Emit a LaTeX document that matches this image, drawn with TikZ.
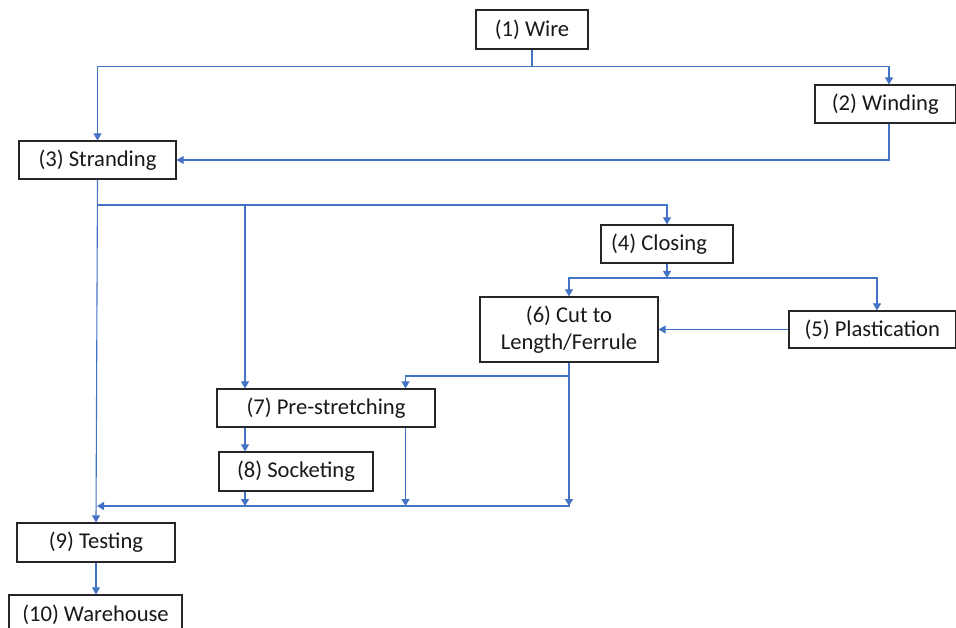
\documentclass[tikz,border=0pt]{standalone}
\usepackage{fontspec}
\setmainfont{Carlito}
\usetikzlibrary{arrows.meta}
\definecolor{lnblue}{HTML}{4472C4}
\definecolor{boxline}{HTML}{262626}
\begin{document}
\begin{tikzpicture}[x=1pt,y=-1pt,
  box/.style={draw=boxline, line width=1.2pt, fill=white, inner sep=0pt, text=black!90,
    font=\fontsize{22.6}{27}\selectfont},
  conn/.style={draw=lnblue, line width=1.1pt},
  arr/.style={conn, -{Triangle[width=8pt,length=7pt]}}]
\useasboundingbox (0,0) rectangle (956,628);

\node[box, minimum width=112, minimum height=39] (w1) at (532,29.5) {(1) Wire};
\node[box, minimum width=140.5, minimum height=38] (w2) at (885.25,104) {(2) Winding};
\node[box, minimum width=157, minimum height=38] (w3) at (97.5,160) {(3) Stranding};
\node[box, minimum width=132, minimum height=38] (w4) at (667,244) {(4) Closing\hspace*{16pt}};
\node[box, minimum width=178, minimum height=65, align=center] (w6) at (569,329.5) {(6) Cut to\\Length/Ferrule};
\node[box, minimum width=166.5, minimum height=37] (w5) at (872.25,329.5) {(5) Plastication};
\node[box, minimum width=218, minimum height=38] (w7) at (326,408) {(7) Pre-stretching};
\node[box, minimum width=154, minimum height=39] (w8) at (296,471.5) {(8) Socketing};
\node[box, minimum width=158, minimum height=39] (w9) at (96,542.5) {(9) Testing};
\node[box, minimum width=173, minimum height=39] (w10) at (95.5,614.5) {(10) Warehouse};

\coordinate (s1) at (532,66.5);
\coordinate (s3) at (98,205);
\coordinate (b7) at (245,205);
\coordinate (s4) at (667,278);
\coordinate (s6) at (569,376);
\coordinate (c7) at (405.5,376);
\coordinate (m) at (570,506);
\coordinate (mleft) at (97,506);

% (1) -> (3), (2)
\draw[conn] (w1.south) -- (s1);
\draw[arr] (s1) -| (w3.north);
\draw[arr] (s1) -| ([xshift=3.75pt]w2.north);
% (2) -> (3)
\draw[arr] ([xshift=3.75pt]w2.south) |- (w3.east);
% (3) -> (9), (4), (7)
\draw[arr] (w3.south) -- (w9.north);
\draw[arr] (s3) -| (w4.north);
\draw[arr] (b7) -- (b7 |- w7.north);
% (4) -> (6), (5)
\draw[arr] (w4.south) -- (s4);
\draw[arr] (s4) -| (w6.north);
\draw[arr] (s4) -| ([xshift=4.75pt]w5.north);
% (5) -> (6)
\draw[arr] (w5.west) -- (w6.east);
% (6) -> (7), merge
\draw[arr] (w6.south) -- (w6.south |- m);
\draw[arr] (s6) -| (c7 |- w7.north);
% (7) -> (8), merge
\draw[arr] (b7 |- w7.south) -- (b7 |- w8.north);
\draw[arr] (c7 |- w7.south) -- (c7 |- m);
% (8) -> merge
\draw[arr] (b7 |- w8.south) -- (b7 |- m);
% merge -> (9)
\draw[arr] (m) -- (mleft);
% (9) -> (10)
\draw[arr] (w9.south) -- (w9.south |- w10.north);
\end{tikzpicture}
\end{document}
